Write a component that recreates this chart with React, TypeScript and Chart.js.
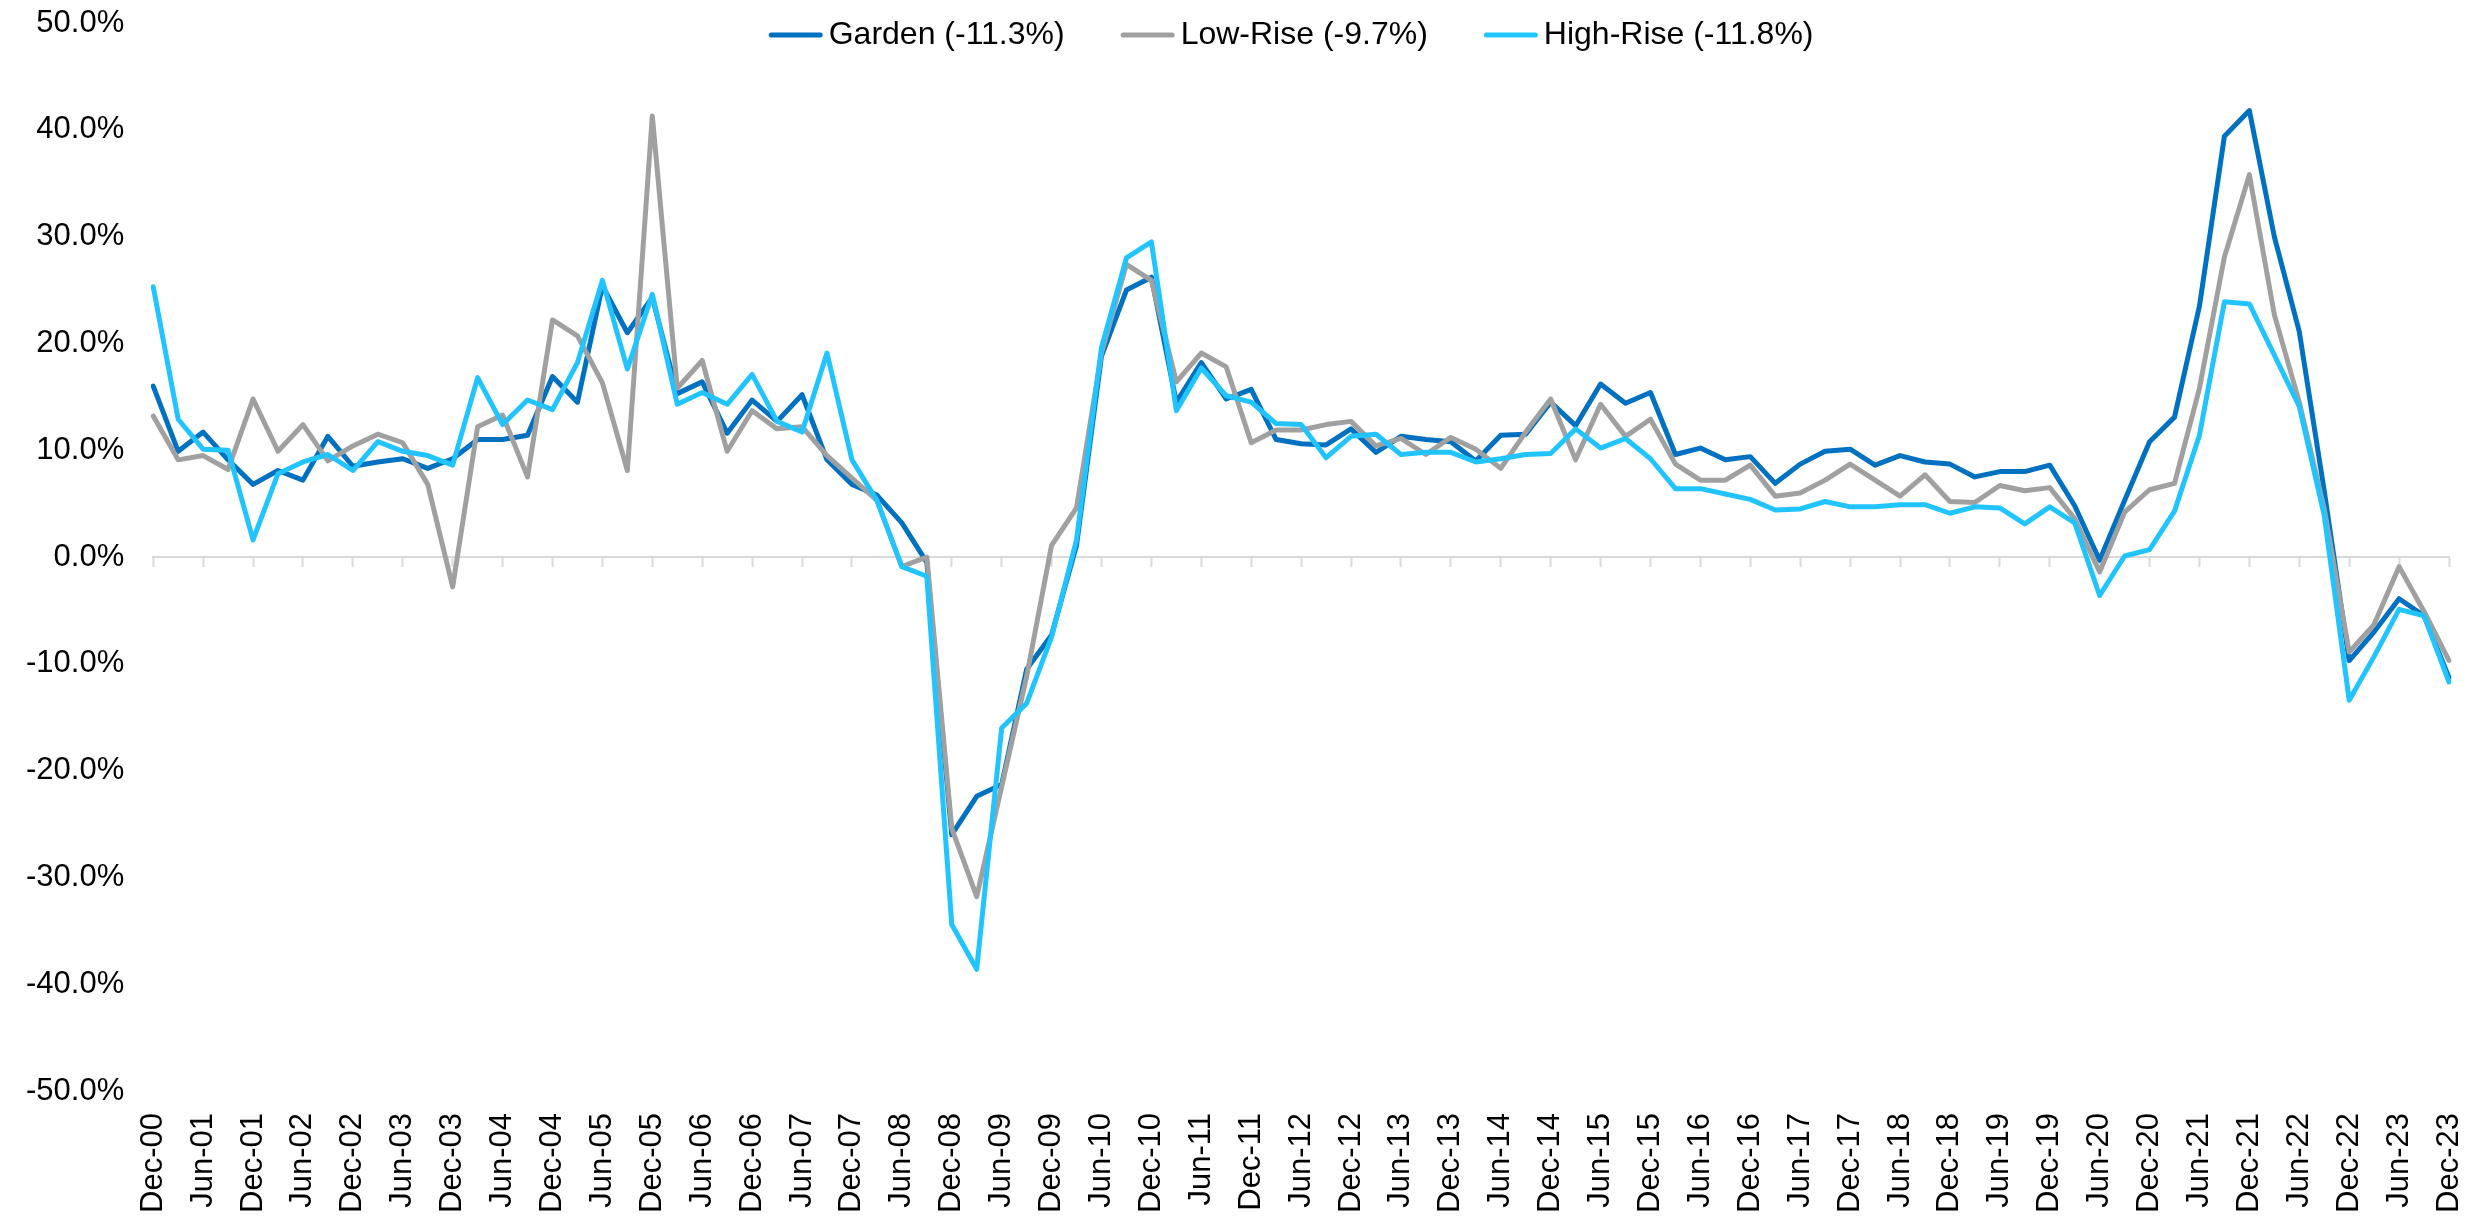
import { useEffect, useRef } from 'react';
import { Chart, registerables } from 'chart.js';

Chart.register(...registerables);

const quarterLabels = [
  'Dec-00',
  'Mar-01', 'Jun-01', 'Sep-01', 'Dec-01',
  'Mar-02', 'Jun-02', 'Sep-02', 'Dec-02',
  'Mar-03', 'Jun-03', 'Sep-03', 'Dec-03',
  'Mar-04', 'Jun-04', 'Sep-04', 'Dec-04',
  'Mar-05', 'Jun-05', 'Sep-05', 'Dec-05',
  'Mar-06', 'Jun-06', 'Sep-06', 'Dec-06',
  'Mar-07', 'Jun-07', 'Sep-07', 'Dec-07',
  'Mar-08', 'Jun-08', 'Sep-08', 'Dec-08',
  'Mar-09', 'Jun-09', 'Sep-09', 'Dec-09',
  'Mar-10', 'Jun-10', 'Sep-10', 'Dec-10',
  'Mar-11', 'Jun-11', 'Sep-11', 'Dec-11',
  'Mar-12', 'Jun-12', 'Sep-12', 'Dec-12',
  'Mar-13', 'Jun-13', 'Sep-13', 'Dec-13',
  'Mar-14', 'Jun-14', 'Sep-14', 'Dec-14',
  'Mar-15', 'Jun-15', 'Sep-15', 'Dec-15',
  'Mar-16', 'Jun-16', 'Sep-16', 'Dec-16',
  'Mar-17', 'Jun-17', 'Sep-17', 'Dec-17',
  'Mar-18', 'Jun-18', 'Sep-18', 'Dec-18',
  'Mar-19', 'Jun-19', 'Sep-19', 'Dec-19',
  'Mar-20', 'Jun-20', 'Sep-20', 'Dec-20',
  'Mar-21', 'Jun-21', 'Sep-21', 'Dec-21',
  'Mar-22', 'Jun-22', 'Sep-22', 'Dec-22',
  'Mar-23', 'Jun-23', 'Sep-23', 'Dec-23',
];

const seriesNames = ['Garden (-11.3%)', 'Low-Rise (-9.7%)', 'High-Rise (-11.8%)'];
const seriesColors = ['#0070C0', '#A0A0A0', '#22C4FF'];

const gardenValues = [
  16.0, 9.9, 11.7, 9.1, 6.8, 8.1, 7.2, 11.3, 8.5, 8.9,
  9.2, 8.3, 9.2, 11.0, 11.0, 11.4, 16.9, 14.5, 25.4, 21.0,
  24.3, 15.3, 16.4, 11.6, 14.7, 12.7, 15.2, 9.1, 6.8, 5.8,
  3.2, -0.5, -26.0, -22.4, -21.3, -10.5, -7.3, 1.1, 18.8, 25.0,
  26.2, 14.5, 18.2, 14.8, 15.7, 11.0, 10.6, 10.5, 12.0, 9.8,
  11.3, 11.0, 10.8, 9.0, 11.4, 11.5, 14.5, 12.3, 16.2, 14.4,
  15.4, 9.6, 10.2, 9.1, 9.4, 6.9, 8.7, 9.9, 10.1, 8.6,
  9.5, 8.9, 8.7, 7.5, 8.0, 8.0, 8.6, 4.8, -0.3, 5.3,
  10.8, 13.1, 23.5, 39.4, 41.8, 30.0, 21.1, 6.2, -9.7, -7.0,
  -3.9, -5.5, -11.3,
];

const lowRiseValues = [
  13.2, 9.1, 9.5, 8.2, 14.8, 9.9, 12.4, 9.0, 10.4, 11.5,
  10.7, 6.8, -2.8, 12.2, 13.3, 7.5, 22.2, 20.7, 16.3, 8.1,
  41.3, 15.8, 18.4, 9.9, 13.7, 12.0, 12.2, 9.5, 7.4, 5.3,
  -0.9, 0.0, -25.4, -31.8, -21.5, -11.2, 1.1, 4.6, 19.1, 27.4,
  25.9, 16.4, 19.1, 17.8, 10.7, 11.9, 11.9, 12.4, 12.7, 10.4,
  11.1, 9.6, 11.2, 10.1, 8.3, 11.7, 14.8, 9.1, 14.3, 11.3,
  12.9, 8.7, 7.2, 7.2, 8.6, 5.7, 6.0, 7.2, 8.7, 7.2,
  5.7, 7.7, 5.2, 5.1, 6.7, 6.2, 6.5, 3.6, -1.4, 4.2,
  6.3, 6.9, 15.8, 28.1, 35.8, 22.7, 14.5, 4.5, -8.9, -6.3,
  -0.9, -5.1, -9.7,
];

const highRiseValues = [
  25.3, 12.9, 10.1, 10.0, 1.6, 7.8, 8.9, 9.6, 8.1, 10.8,
  9.9, 9.5, 8.6, 16.8, 12.4, 14.7, 13.8, 18.2, 25.9, 17.6,
  24.6, 14.3, 15.4, 14.3, 17.1, 12.7, 11.7, 19.1, 9.1, 5.3,
  -0.9, -1.8, -34.4, -38.6, -16.0, -13.7, -7.5, 1.6, 19.6, 28.0,
  29.5, 13.7, 17.7, 15.1, 14.5, 12.5, 12.4, 9.3, 11.3, 11.5,
  9.6, 9.8, 9.8, 8.9, 9.2, 9.6, 9.7, 12.0, 10.2, 11.1,
  9.2, 6.4, 6.4, 5.9, 5.4, 4.4, 4.5, 5.2, 4.7, 4.7,
  4.9, 4.9, 4.1, 4.7, 4.6, 3.1, 4.7, 3.2, -3.6, 0.1,
  0.7, 4.3, 11.4, 23.9, 23.7, 18.9, 14.1, 3.9, -13.4, -9.3,
  -4.9, -5.5, -11.7,
];

const seriesValues = [gardenValues, lowRiseValues, highRiseValues];

const yMin = -50;
const yMax = 50;
const yStep = 10;

const FONT_FAMILY = "'Liberation Sans', Arial, Helvetica, sans-serif";
const FONT_SIZE = 31;
const LEGEND_FONT_SIZE = 32;
const AXIS_GRAY = '#D9D9D9';

const topLegendPlugin = {
  id: 'topLegend',
  afterDatasetsDraw(chart: any) {
    const { ctx, chartArea } = chart;
    ctx.save();
    ctx.font = `${LEGEND_FONT_SIZE}px ${FONT_FAMILY}`;
    ctx.textBaseline = 'middle';
    ctx.textAlign = 'left';
    const lineLen = 54;
    const gap = 6;
    const spacing = 56;
    const items = chart.data.datasets.map((ds: any) => ({
      text: ds.label as string,
      color: ds.borderColor as string,
      w: ctx.measureText(ds.label).width as number,
    }));
    const total =
      items.reduce((s: number, it: any) => s + lineLen + gap + it.w, 0) +
      spacing * (items.length - 1);
    let x = (chartArea.left + chartArea.right) / 2 - 10 - total / 2;
    const y = chartArea.top + 12;
    items.forEach((it: any) => {
      ctx.strokeStyle = it.color;
      ctx.lineWidth = 5;
      ctx.lineCap = 'round';
      ctx.beginPath();
      ctx.moveTo(x + 2.5, y);
      ctx.lineTo(x + lineLen - 2.5, y);
      ctx.stroke();
      ctx.fillStyle = '#000';
      ctx.fillText(it.text, x + lineLen + gap, y);
      x += lineLen + gap + it.w + spacing;
    });
    ctx.restore();
  },
};

export default function App() {
  const canvasRef = useRef<HTMLCanvasElement | null>(null);

  useEffect(() => {
    if (!canvasRef.current) return;
    const font = { family: FONT_FAMILY, size: FONT_SIZE };
    const chart = new Chart(canvasRef.current, {
      type: 'line',
      data: {
        labels: quarterLabels,
        datasets: seriesNames.map((name, i) => ({
          label: name,
          data: seriesValues[i],
          borderColor: seriesColors[i],
          backgroundColor: seriesColors[i],
          borderWidth: 5,
          pointRadius: 0,
          pointHoverRadius: 0,
          tension: 0,
          fill: false,
          borderJoinStyle: 'round' as const,
          borderCapStyle: 'round' as const,
          order: seriesNames.length - i,
          xAxisID: 'x',
          yAxisID: 'y',
        })),
      },
      options: {
        animation: false,
        responsive: true,
        maintainAspectRatio: false,
        layout: { padding: { left: 26, right: 23, top: 23, bottom: 4 } },
        plugins: {
          legend: { display: false },
          tooltip: { enabled: false },
        },
        scales: {
          x: {
            type: 'category',
            axis: 'x',
            position: { y: 0 } as any,
            offset: false,
            ticks: { display: false, autoSkip: false },
            grid: {
              display: true,
              drawOnChartArea: false,
              drawTicks: true,
              tickLength: 9,
              tickWidth: 2,
              tickColor: (c: any) => (c.index % 2 === 0 ? AXIS_GRAY : 'rgba(0,0,0,0)'),
            },
            border: { display: true, color: AXIS_GRAY, width: 2 },
          },
          x2: {
            type: 'category',
            axis: 'x',
            position: 'bottom',
            offset: false,
            grid: { display: false, drawTicks: false },
            border: { display: false },
            ticks: {
              autoSkip: false,
              maxRotation: 90,
              minRotation: 90,
              padding: 22,
              color: '#000',
              font,
              callback: function (this: any, v: any, i: number) {
                return i % 2 === 0 ? quarterLabels[i] : null;
              },
            },
            afterFit: (s: any) => {
              s.height -= s.options.ticks.padding;
              s.paddingLeft = 0;
              s.paddingRight = 0;
            },
          },
          y: {
            type: 'linear',
            position: 'left',
            min: yMin,
            max: yMax,
            grid: { display: false, drawTicks: false },
            border: { display: false },
            ticks: {
              stepSize: yStep,
              padding: 29,
              color: '#000',
              font,
              callback: (v: any) => Number(v).toFixed(1) + '%',
            },
            afterFit: (s: any) => {
              s.width -= s.options.ticks.padding;
              s.paddingTop = 0;
              s.paddingBottom = 0;
            },
          },
        },
      } as any,
      plugins: [topLegendPlugin],
    });
    return () => chart.destroy();
  }, []);

  return (
    <div style={{ position: 'absolute', left: 0, top: 0, width: 2472, height: 1217, background: '#fff' }}>
      <canvas ref={canvasRef} />
    </div>
  );
}
